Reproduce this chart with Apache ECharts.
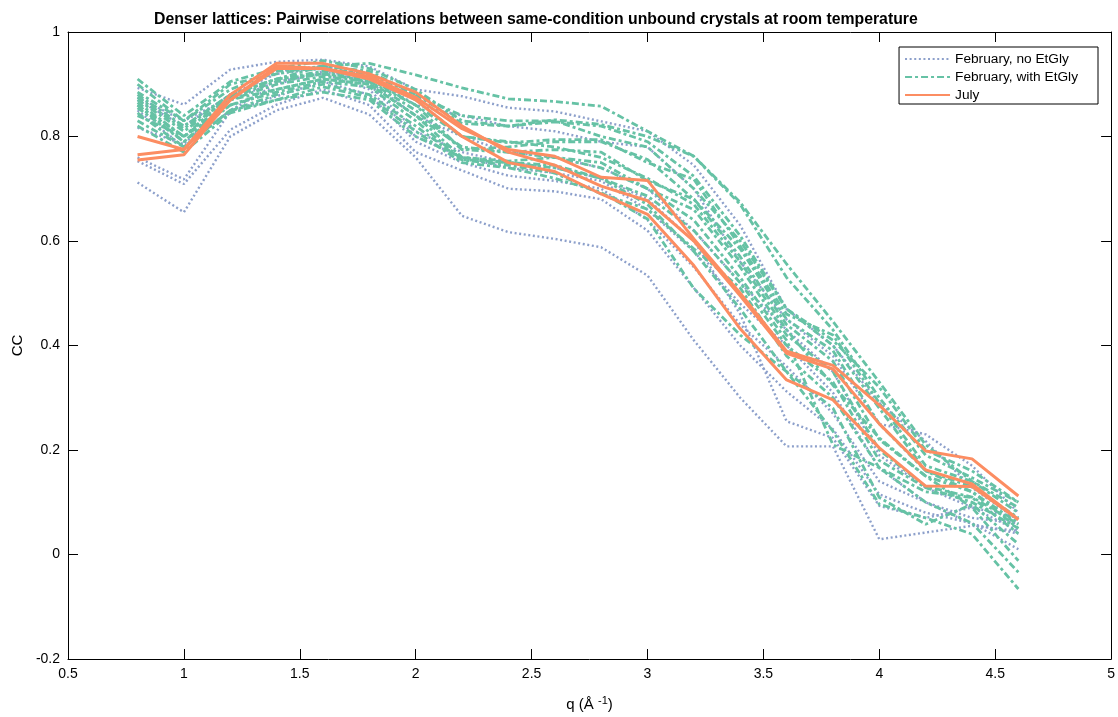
<!DOCTYPE html>
<html>
<head>
<meta charset="utf-8">
<script src="https://cdn.jsdelivr.net/npm/echarts@6/dist/echarts.min.js"></script>
<style>
html,body{margin:0;padding:0;background:#fff;}
#chart{width:1118px;height:717px;}
</style>
</head>
<body>
<div id="chart"></div>
<script>
// q values (Å^-1)
const qValues = [0.8,1.0,1.2,1.4,1.6,1.8,2.0,2.2,2.4,2.6,2.8,3.0,3.2,3.4,3.6,3.8,4.0,4.2,4.4,4.6];

const xTicks = [0.5,1,1.5,2,2.5,3,3.5,4,4.5,5];
const yTicks = [-0.2,0,0.2,0.4,0.6,0.8,1];

const nameFebNo = 'February, no EtGly';
const nameFebWith = 'February, with EtGly';
const nameJuly = 'July';

// February, no EtGly (dotted blue)
const febNo1 = [0.893,0.861,0.928,0.943,0.947,0.934,0.890,0.877,0.855,0.848,0.829,0.810,0.745,0.630,0.470,0.400,0.290,0.217,0.128,0.065];
const febNo2 = [0.850,0.780,0.850,0.900,0.925,0.905,0.840,0.800,0.770,0.760,0.740,0.700,0.620,0.520,0.430,0.350,0.190,0.128,0.090,0.045];
const febNo3 = [0.817,0.785,0.870,0.905,0.920,0.890,0.800,0.760,0.740,0.730,0.715,0.660,0.580,0.480,0.400,0.310,0.165,0.100,0.058,0.040];
const febNo4 = [0.760,0.718,0.848,0.877,0.905,0.880,0.790,0.750,0.725,0.715,0.700,0.640,0.550,0.440,0.360,0.270,0.140,0.100,0.070,0.060];
const febNo5 = [0.753,0.709,0.813,0.861,0.890,0.860,0.770,0.735,0.700,0.695,0.680,0.620,0.510,0.400,0.312,0.240,0.115,0.080,0.060,0.010];
const febNo6 = [0.712,0.655,0.800,0.850,0.874,0.842,0.760,0.648,0.617,0.604,0.588,0.534,0.410,0.300,0.207,0.207,0.029,0.042,0.055,0.045];
const febNo7 = [0.870,0.820,0.880,0.920,0.930,0.900,0.810,0.770,0.750,0.740,0.720,0.680,0.600,0.460,0.255,0.223,0.093,0.070,0.090,0.070];
const febNo8 = [0.875,0.830,0.875,0.925,0.935,0.915,0.860,0.840,0.820,0.810,0.790,0.780,0.700,0.560,0.450,0.380,0.250,0.230,0.170,0.080];

// February, with EtGly (dash-dot green)
const febWith1 = [0.840,0.800,0.880,0.910,0.935,0.940,0.918,0.893,0.872,0.867,0.858,0.810,0.762,0.674,0.556,0.446,0.330,0.210,0.140,0.090];
const febWith2 = [0.910,0.840,0.905,0.930,0.945,0.930,0.890,0.830,0.820,0.832,0.823,0.800,0.762,0.670,0.530,0.430,0.300,0.190,0.147,0.100];
const febWith3 = [0.885,0.830,0.890,0.925,0.930,0.920,0.880,0.825,0.820,0.828,0.820,0.790,0.724,0.610,0.470,0.410,0.320,0.200,0.160,0.100];
const febWith4 = [0.875,0.815,0.880,0.910,0.925,0.915,0.870,0.800,0.788,0.794,0.794,0.750,0.718,0.590,0.460,0.420,0.290,0.170,0.140,0.080];
const febWith5 = [0.870,0.810,0.875,0.905,0.920,0.910,0.860,0.775,0.780,0.790,0.790,0.756,0.680,0.585,0.450,0.390,0.250,0.160,0.130,0.070];
const febWith6 = [0.865,0.800,0.870,0.900,0.915,0.905,0.850,0.775,0.770,0.775,0.770,0.715,0.680,0.570,0.440,0.370,0.220,0.150,0.120,0.060];
const febWith7 = [0.860,0.800,0.860,0.890,0.910,0.900,0.840,0.760,0.753,0.760,0.750,0.700,0.660,0.550,0.420,0.350,0.200,0.130,0.110,0.058];
const febWith8 = [0.855,0.790,0.860,0.885,0.905,0.895,0.830,0.756,0.750,0.745,0.720,0.686,0.620,0.520,0.400,0.330,0.180,0.128,0.100,0.050];
const febWith9 = [0.845,0.780,0.850,0.880,0.900,0.880,0.820,0.755,0.745,0.730,0.690,0.661,0.585,0.510,0.380,0.300,0.166,0.120,0.109,0.040];
const febWith10 = [0.830,0.780,0.850,0.870,0.895,0.875,0.810,0.750,0.740,0.720,0.693,0.642,0.509,0.420,0.350,0.280,0.109,0.058,0.096,0.020];
const febWith11 = [0.820,0.770,0.845,0.870,0.885,0.870,0.800,0.760,0.750,0.740,0.720,0.670,0.580,0.470,0.350,0.236,0.096,0.070,0.039,-0.066];
const febWith12 = [0.900,0.830,0.900,0.920,0.935,0.925,0.880,0.840,0.830,0.830,0.800,0.780,0.700,0.600,0.470,0.400,0.280,0.160,0.120,0.050];
const febWith13 = [0.880,0.820,0.880,0.910,0.920,0.905,0.860,0.800,0.790,0.780,0.760,0.720,0.670,0.560,0.430,0.324,0.223,0.150,0.090,-0.012];
const febWith14 = [0.860,0.790,0.870,0.890,0.910,0.900,0.840,0.780,0.770,0.760,0.740,0.700,0.640,0.530,0.410,0.210,0.166,0.100,0.060,-0.034];

// July (solid orange)
const july1 = [0.800,0.775,0.870,0.935,0.930,0.915,0.875,0.815,0.775,0.762,0.722,0.716,0.604,0.500,0.389,0.362,0.286,0.198,0.183,0.112];
const july2 = [0.765,0.775,0.880,0.940,0.940,0.920,0.885,0.820,0.770,0.745,0.705,0.677,0.600,0.495,0.385,0.355,0.250,0.162,0.135,0.067];
const july3 = [0.755,0.765,0.870,0.930,0.930,0.910,0.870,0.800,0.750,0.733,0.690,0.651,0.553,0.432,0.334,0.296,0.204,0.131,0.130,0.067];

const febNoSets = [febNo1,febNo2,febNo3,febNo4,febNo5,febNo6,febNo7,febNo8];
const febWithSets = [febWith1,febWith2,febWith3,febWith4,febWith5,febWith6,febWith7,febWith8,febWith9,febWith10,febWith11,febWith12,febWith13,febWith14];
const julySets = [july1,july2,july3];

const FONT = '"Liberation Sans", Arial, Helvetica, sans-serif';
const BLUE = '#8DA0CB', GREEN = '#66C2A5', ORANGE = '#FC8D62';

function mk(name, vals, color, width, type, z) {
  return {
    type: 'line', name: name,
    data: qValues.map((q, i) => [q, vals[i]]),
    symbol: 'none', silent: true, animation: false, z: z,
    lineStyle: { color: color, width: width, type: type, cap: 'butt' },
    itemStyle: { color: color }
  };
}

const series = [];
febNoSets.forEach(v => series.push(mk(nameFebNo, v, BLUE, 2.4, [2, 2.6], 2)));
febWithSets.forEach(v => series.push(mk(nameFebWith, v, GREEN, 2.8, [7, 3, 3, 3], 3)));
julySets.forEach(v => series.push(mk(nameJuly, v, ORANGE, 3, 'solid', 4)));

const fmt = v => String(Math.round(v * 10) / 10);

const axisCommon = {
  axisLine: { show: true, onZero: false, lineStyle: { color: '#000', width: 1 } },
  axisTick: { show: true, inside: true, length: 10, lineStyle: { color: '#000', width: 1 } },
  splitLine: { show: false }
};

const chart = echarts.init(document.getElementById('chart'), null, { renderer: 'canvas' });
chart.setOption({
  animation: false,
  backgroundColor: '#fff',
  textStyle: { fontFamily: FONT },
  title: {
    text: 'Denser lattices: Pairwise correlations between same-condition unbound crystals at room temperature',
    left: 149, top: 7,
    textStyle: { fontFamily: FONT, fontSize: 15.8, fontWeight: 'bold', color: '#000' }
  },
  legend: {
    data: [nameFebNo, nameFebWith, nameJuly],
    orient: 'vertical',
    right: 20, top: 47,
    backgroundColor: '#fff',
    borderColor: '#000', borderWidth: 1, borderRadius: 0,
    padding: [4, 20, 1, 5],
    itemWidth: 45, itemHeight: 12, itemGap: 2,
    itemStyle: { opacity: 0, borderWidth: 0 },
    textStyle: { fontFamily: FONT, fontSize: 13.7, lineHeight: 16, color: '#000', padding: [0, 0, 0, 0] }
  },
  grid: { left: 68, right: 5, top: 32, bottom: 55, containLabel: false },
  xAxis: [
    Object.assign({}, axisCommon, {
      type: 'value', min: 0.5, max: 5, interval: 0.5, position: 'bottom',
      axisLabel: { formatter: fmt, color: '#000', fontSize: 14, fontFamily: FONT, margin: 8 },
      name: 'q (Å {sup|-1})', nameLocation: 'middle', nameGap: 36,
      nameTextStyle: { fontFamily: FONT, fontSize: 15, color: '#000',
        rich: { sup: { fontSize: 11, fontFamily: FONT, color: '#000', padding: [0, 0, 8, 0] } } }
    }),
    Object.assign({}, axisCommon, {
      type: 'value', min: 0.5, max: 5, interval: 0.5, position: 'top',
      axisLabel: { show: false }
    })
  ],
  yAxis: [
    Object.assign({}, axisCommon, {
      type: 'value', min: -0.2, max: 1, interval: 0.2, position: 'left',
      axisLabel: { formatter: fmt, color: '#000', fontSize: 14, fontFamily: FONT, margin: 8 },
      name: 'CC', nameLocation: 'middle', nameGap: 33, nameRotate: 90,
      nameTextStyle: { fontFamily: FONT, fontSize: 15, color: '#000' }
    }),
    Object.assign({}, axisCommon, {
      type: 'value', min: -0.2, max: 1, interval: 0.2, position: 'right',
      axisLabel: { show: false }
    })
  ],
  series: series
});
</script>
</body>
</html>
